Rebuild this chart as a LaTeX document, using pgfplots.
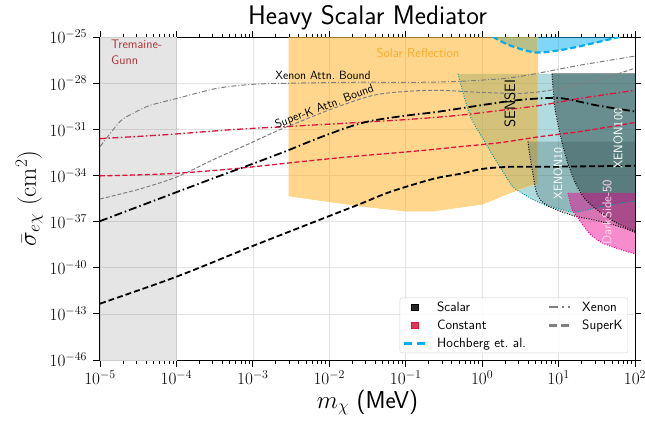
\documentclass[border=0pt]{standalone}
\usepackage{pgfplots}
\pgfplotsset{compat=1.18}
\definecolor{crim}{RGB}{220,20,60}
\definecolor{solar}{RGB}{255,165,0}
\definecolor{senseic}{RGB}{80,175,185}
\definecolor{teald}{RGB}{0,150,160}
\definecolor{dslate}{RGB}{47,79,79}
\definecolor{tgred}{RGB}{170,50,50}
\definecolor{soltext}{RGB}{250,170,40}
\definecolor{gline}{RGB}{128,128,128}
\begin{document}
\begin{tikzpicture}
\begin{axis}[
  at={(0,0)}, anchor=south west,
  scale only axis, width=535bp, height=323bp,
  xmode=log, ymode=log,
  xmin=1e-5, xmax=1e2, ymin=1e-46, ymax=1e-25,
  xtick={1e-5,1e-4,1e-3,1e-2,1e-1,1,1e1,1e2},
  ytick={1e-46,1e-43,1e-40,1e-37,1e-34,1e-31,1e-28,1e-25},
  yminorticks=false,
  grid=major, major grid style={gray!22, line width=0.7bp},
  tick align=outside,
  major tick length=6.5bp, minor tick length=3.5bp,
  tick style={black, line width=0.8bp},
  axis line style={line width=1bp},
  tick label style={font=\fontsize{18.5}{21}\selectfont},
  yticklabel style={xshift=-3bp},
  xticklabel style={yshift=-1bp},
  xlabel={$m_\chi$ \textsf{(MeV)}},
  ylabel={$\bar{\sigma}_{e\chi}\ (\mathrm{cm}^2)$},
  xlabel style={font=\fontsize{24.5}{28}\selectfont, yshift=2bp},
  ylabel style={font=\fontsize{26}{30}\selectfont},
  title={\sffamily Heavy Scalar Mediator},
  title style={font=\fontsize{27}{31}\selectfont, yshift=-2bp},
  legend columns=2,
  legend cell align=left,
  legend style={at={(1,0)}, anchor=south east, xshift=-7bp, yshift=7bp,
    font=\sffamily\fontsize{13.5}{15}\selectfont, draw=gray!35, rounded corners=2bp,
    fill=white, fill opacity=0.85, text opacity=1, row sep=3bp,
    inner xsep=3bp, inner ysep=2bp,
    /tikz/every even column/.append style={column sep=20bp},
    /tikz/every odd column/.append style={column sep=9bp}},
]
% Tremaine-Gunn
\addplot[fill=black, fill opacity=0.1, draw=gray!40, forget plot] coordinates {(1e-5,1e-46) (1e-4,1e-46) (1e-4,1e-25) (1e-5,1e-25)} -- cycle;
% Hochberg fill
\addplot[fill=cyan, fill opacity=0.5, draw=none, forget plot] coordinates {(1.09,2.12e-25) (2.11,3.4e-26) (4.92,1.0e-26) (11.4,1.5e-26) (34.9,5.0e-26) (100,1.83e-25) (100,1e-24) (1.09,1e-24)} -- cycle;
% SENSEI fill
\addplot[fill=senseic, fill opacity=0.45, draw=none, forget plot] coordinates {(0.483,4.0e-28) (100,4.0e-28) (100,2.17e-36) (54.7,1.38e-36) (30.0,7.57e-37) (16.4,4.14e-37) (10.4,6.51e-37) (5.72,1.61e-36) (3.13,8.42e-36) (2.46,2.08e-35) (1.875,1.71e-34) (1.387,1.9e-33) (1.026,2.47e-32) (0.693,7.89e-31)} -- cycle;
% Solar reflection
\addplot[fill=solar, fill opacity=0.45, draw=solar!50, line width=0.5bp, forget plot] coordinates {(2.97e-3,1e-25) (2.97e-3,4.61e-36) (2.52e-2,1.02e-36) (9.79e-2,4.82e-37) (0.228,4.82e-37) (1.026,1.38e-36) (2.11,6.23e-36) (3.86,1.78e-35) (5.38,2.81e-35) (5.38,1e-25)} -- cycle;
% XENON10
\addplot[fill=dslate, fill opacity=0.25, draw=none, forget plot] coordinates {(3.98,1.57e-32) (100,1.57e-32) (100,2.04e-38) (54.7,5.84e-38) (30.0,1.24e-37) (16.4,2.26e-37) (10.4,4.82e-37) (6.64,1.38e-36) (5.22,6.23e-36) (4.62,1.27e-34) (4.23,1.64e-33)} -- cycle;
% XENON100
\addplot[fill=dslate, fill opacity=0.55, draw=none, forget plot] coordinates {(8.20,4.0e-28) (100,4.0e-28) (100,2.37e-38) (58.1,7.89e-38) (34.9,4.14e-37) (22.2,2.93e-36) (16.9,2.81e-35) (13.3,5.71e-34) (10.8,2.47e-32) (8.98,2.26e-30)} -- cycle;
% DarkSide-50
\addplot[fill=magenta, fill opacity=0.45, draw=none, forget plot] coordinates {(13.3,7.24e-36) (100,7.24e-36) (100,8e-40) (63.6,1.57e-39) (38.1,3.88e-39) (25.8,1.51e-38) (19.1,1.07e-37) (15.0,6.51e-37)} -- cycle;
% boundaries
\addplot[teald, line width=1bp, dash pattern=on 1bp off 1.5bp, smooth, forget plot] coordinates {(0.483,4.0e-28) (0.693,7.89e-31) (1.026,2.47e-32) (1.387,1.9e-33) (1.875,1.71e-34) (2.46,2.08e-35) (3.13,8.42e-36) (5.72,1.61e-36) (10.4,6.51e-37) (16.4,4.14e-37) (30.0,7.57e-37) (54.7,1.38e-36) (100,2.17e-36)};
\addplot[black, line width=1bp, dash pattern=on 1bp off 1.5bp, smooth, forget plot] coordinates {(3.98,1.57e-32) (4.23,1.64e-33) (4.62,1.27e-34) (5.22,6.23e-36) (6.64,1.38e-36) (10.4,4.82e-37) (16.4,2.26e-37) (30.0,1.24e-37) (54.7,5.84e-38) (100,2.04e-38)};
\addplot[black, line width=1bp, dash pattern=on 1bp off 1.5bp, smooth, forget plot] coordinates {(8.20,4.0e-28) (8.98,2.26e-30) (10.8,2.47e-32) (13.3,5.71e-34) (16.9,2.81e-35) (22.2,2.93e-36) (34.9,4.14e-37) (58.1,7.89e-38) (100,2.37e-38)};
\addplot[gray!80, line width=1.2bp, forget plot] coordinates {(8.20,4.0e-28) (100,4.0e-28)};
\addplot[magenta, line width=1bp, dash pattern=on 1bp off 1.5bp, smooth, forget plot] coordinates {(13.3,7.24e-36) (15.0,6.51e-37) (19.1,1.07e-37) (25.8,1.51e-38) (38.1,3.88e-39) (63.6,1.57e-39) (100,8e-40)};
% Xenon attenuation bound
\addplot[gline, line width=1bp, dash pattern=on 5bp off 2bp on 1bp off 2bp, smooth, forget plot] coordinates {(1e-5,7.40e-33) (1.83e-5,3.20e-31) (2.70e-5,1.07e-30) (4.51e-5,3.56e-30) (1.02e-4,1.02e-29) (3.40e-4,4.61e-29) (1.00e-3,8.42e-29) (2.80e-3,9.79e-29) (1.87e-2,1.14e-28) (0.154,1.14e-28) (0.513,1.32e-28) (2.11,2.08e-28) (5.38,4.42e-28) (19.1,1.47e-27) (100,5.71e-27)};
% Super-K attenuation bound
\addplot[gline, line width=1bp, dash pattern=on 4bp off 2bp, smooth, forget plot] coordinates {(1e-5,2.93e-36) (3.33e-5,1.32e-35) (1.02e-4,8.07e-35) (3.01e-4,1.04e-33) (8.38e-4,1.0e-32) (2.27e-3,9.58e-32) (4.14e-3,3.20e-31) (1.12e-2,2.26e-30) (3.73e-2,1.61e-29) (0.104,2.93e-29) (0.281,3.41e-29) (0.938,2.52e-29) (3.13,2.17e-29) (7.73,3.41e-29) (20.9,9.79e-29) (47.1,2.81e-28) (100,9.37e-28)};
% Constant, Xenon
\addplot[crim, line width=1.3bp, dash pattern=on 6bp off 2.5bp on 1.5bp off 2.5bp, smooth, forget plot] coordinates {(1e-5,2.47e-32) (7.53e-5,4.51e-32) (5.50e-4,9.58e-32) (2.80e-3,1.51e-31) (1.38e-2,2.37e-31) (0.104,4.32e-31) (0.469,7.89e-31) (1.71,1.68e-30) (5.72,3.56e-30) (19.1,1.02e-29) (100,3.41e-29)};
% Constant, SuperK
\addplot[crim, line width=1.3bp, dash pattern=on 5bp off 2.5bp, smooth, forget plot] coordinates {(1e-5,9.37e-35) (7.53e-5,1.27e-34) (5.50e-4,2.69e-34) (4.14e-3,7.73e-34) (1.87e-2,1.64e-33) (0.154,4.05e-33) (0.513,7.40e-33) (1.713,1.35e-32) (5.72,3.33e-32) (19.1,7.08e-32) (100,2.75e-31)};
% Scalar, Xenon
\addplot[black, line width=1.8bp, dash pattern=on 8bp off 3bp on 1.5bp off 3bp, smooth, forget plot] coordinates {(1e-5,1.07e-37) (1.02e-4,8.42e-36) (3.40e-4,8.07e-35) (9.18e-4,4.92e-34) (2.80e-3,4.05e-33) (6.90e-3,2.47e-32) (1.87e-2,1.51e-31) (3.73e-2,3.72e-31) (0.104,7.89e-31) (0.281,1.44e-30) (2.11,6.50e-30) (5.72,1.02e-29) (11.4,1.02e-29) (31.8,3.56e-30) (100,1.44e-30)};
% Scalar, SuperK
\addplot[black, line width=1.8bp, dash pattern=on 6bp off 3bp, smooth, forget plot] coordinates {(1e-5,4.61e-43) (1.02e-4,2.69e-41) (9.75e-4,2.47e-39) (9.91e-3,2.26e-37) (2.52e-2,1.38e-36) (6.22e-2,8.42e-36) (0.228,5.97e-35) (0.513,1.27e-34) (1.026,2.69e-34) (2.31,3.64e-34) (5.72,3.64e-34) (100,4.23e-34)};
% Hochberg boundary
\addplot[cyan, line width=2.2bp, dash pattern=on 6bp off 3bp, smooth, forget plot] coordinates {(1.09,2.12e-25) (2.11,3.4e-26) (4.92,1.0e-26) (11.4,1.5e-26) (34.9,5.0e-26) (100,1.83e-25)};
% labels
\node[font=\sffamily\fontsize{12}{14}\selectfont] at (axis cs:8.28e-3,3.27e-28) {Xenon Attn.\ Bound};
\node[font=\sffamily\fontsize{12}{14}\selectfont, rotate=20.7, inner sep=0pt] at (axis cs:8.69e-3,2.8e-30) {Super-K Attn.\ Bound};
\node[font=\sffamily\fontsize{13}{15}\selectfont, text=soltext] at (axis cs:0.145,8.97e-27) {Solar Reflection};
\node[font=\sffamily\fontsize{12.5}{15.5}\selectfont, text=tgred, anchor=north west, align=left, inner sep=0pt] at (axis cs:1.39e-5,6.37e-26) {Tremaine-\\Gunn};
\node[font=\sffamily\fontsize{15}{17}\selectfont, rotate=90] at (axis cs:2.31,4.81e-30) {SENSEI};
\node[font=\sffamily\fontsize{12}{14}\selectfont, rotate=90, text=white] at (axis cs:9.82,1.3e-34) {XENON10};
\node[font=\sffamily\fontsize{12.5}{14}\selectfont, rotate=90, text=white] at (axis cs:59.8,2.47e-32) {XENON100};
\node[font=\sffamily\fontsize{13}{15}\selectfont, rotate=90, text=white!85!magenta] at (axis cs:43.0,4.14e-37) {DarkSide-50};
% legend
\addlegendimage{legend image code/.code={\path[draw=none] (0bp,0bp) -- (21bp,0bp); \fill[black, sharp corners] (7.25bp,-3.25bp) rectangle (13.75bp,3.25bp);}}
\addlegendentry{Scalar}
\addlegendimage{legend image code/.code={\draw[gline, sharp corners, line width=2.2bp, dash pattern=on 9bp off 4bp on 2bp off 4bp] (0bp,0bp) -- (21bp,0bp);}}
\addlegendentry{Xenon}
\addlegendimage{legend image code/.code={\path[draw=none] (0bp,0bp) -- (21bp,0bp); \fill[crim, sharp corners] (7.25bp,-3.25bp) rectangle (13.75bp,3.25bp);}}
\addlegendentry{Constant}
\addlegendimage{legend image code/.code={\draw[gline, sharp corners, line width=2.2bp, dash pattern=on 8bp off 4bp] (0bp,0bp) -- (21bp,0bp);}}
\addlegendentry{SuperK}
\addlegendimage{legend image code/.code={\draw[cyan, sharp corners, line width=2.2bp, dash pattern=on 8bp off 5bp] (0bp,0bp) -- (21bp,0bp);}}
\addlegendentry{Hochberg et.\ al.}
\end{axis}
\pgfresetboundingbox
\path (-100bp,-63bp) rectangle (545bp,360bp);
\end{tikzpicture}
\end{document}
